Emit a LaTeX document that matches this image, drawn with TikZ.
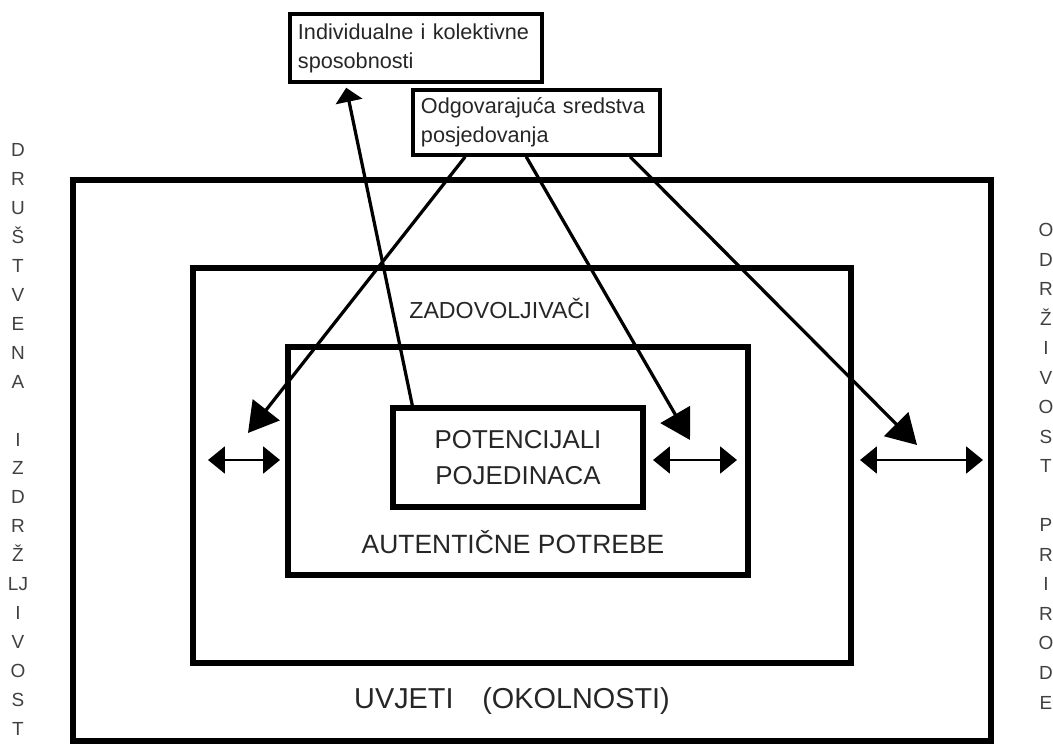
\documentclass[tikz,border=0pt]{standalone}
\usepackage{fontspec}
\setmainfont{Liberation Sans}
\usetikzlibrary{arrows.meta,calc,fit,positioning}

\begin{document}
\begin{tikzpicture}[
  x=0.025cm, y=-0.025cm,
  frame/.style={draw, line width=3.8pt, inner sep=0pt},
  capbox/.style={draw, line width=2.5pt, align=left, inner xsep=0.2cm,
    font=\fontsize{15.4}{20.6}\selectfont, text=black!85},
  label/.style={font=\fontsize{16.5}{20}\selectfont, text=black!85},
  column/.style={align=center, inner sep=0pt, text=black!75},
  arr/.style={-{Triangle[length=21pt,width=24pt]}, line width=2.3pt},
  uparr/.style={-{Triangle[length=10pt,width=19pt]}, line width=2.3pt},
  dbl/.style={{Triangle[length=12pt,width=19pt]}-{Triangle[length=12pt,width=19pt]}, line width=2pt},
]
\useasboundingbox (0,0) rectangle (1053,747);

% --- nested frames ---
\node[frame, fit={(73,180) (991,741)}] (uvjeti) {};
\node[frame, fit={(193,268) (851,663)}] (zadovoljivaci) {};
\node[frame, fit={(288,347) (748,575)}] (autenticne) {};
\node[frame, minimum width=6.25cm, minimum height=2.475cm, align=center,
  font=\fontsize{18.4}{26}\selectfont, text=black!85] (potencijali) at (518,457.5)
  {POTENCIJALI\\POJEDINACA};

% frame labels
\node[label] (lzad) at (500,308) {ZADOVOLJIVAČI};
\node[label, font=\fontsize{18.8}{22}\selectfont] (laut) at (513,542) {AUTENTIČNE POTREBE};
\node[label, font=\fontsize{20.5}{24}\selectfont] (luvj) at (512,701) {UVJETI\quad(OKOLNOSTI)};

% --- boxes on top ---
\node[capbox, minimum width=6.3cm, minimum height=1.7cm, text width=5.9cm] (cap1) at (416,48)
  {Individualne i kolektivne\\sposobnosti};
\node[capbox, minimum width=6.175cm, minimum height=1.625cm, text width=5.775cm] (cap2) at (536.5,122.5)
  {Odgovarajuća sredstva\\posjedovanja};

% arrow ends
\coordinate (t1) at (248,433);
\coordinate (t2) at (690,440);
\coordinate (t3) at (917,445);

\draw[uparr] ($(potencijali.north west)+(22,0)$) -- ($(cap1.south west)+(58,4)$);
\draw[arr] ($(cap2.south west)+(54,0)$) -- (t1);
\draw[arr] ($(cap2.south west)+(115,0)$) -- (t2);
\draw[arr] ($(cap2.south west)+(219,0)$) -- (t3);

% --- exchange arrows ---
\coordinate (l1) at (208,460);
\coordinate (l2) at (280,460);
\coordinate (m1) at (653,460);
\coordinate (m2) at (737,460);
\coordinate (r1) at (860,460);
\coordinate (r2) at (983,460);
\draw[dbl] (l1) -- (l2);
\draw[dbl] (m1) -- (m2);
\draw[dbl] (r1) -- (r2);

% --- side columns ---
\node[column, anchor=north, font=\fontsize{13.5}{20.6}\selectfont] (lijevo) at (18,143)
  {D\\R\\U\\Š\\T\\V\\E\\N\\A\\[20.6pt]I\\Z\\D\\R\\Ž\\LJ\\I\\V\\O\\S\\T};
\node[column, anchor=north, font=\fontsize{13.5}{21}\selectfont] (desno) at (1046,223)
  {O\\D\\R\\Ž\\I\\V\\O\\S\\T\\[21pt]P\\R\\I\\R\\O\\D\\E};

\end{tikzpicture}
\end{document}
